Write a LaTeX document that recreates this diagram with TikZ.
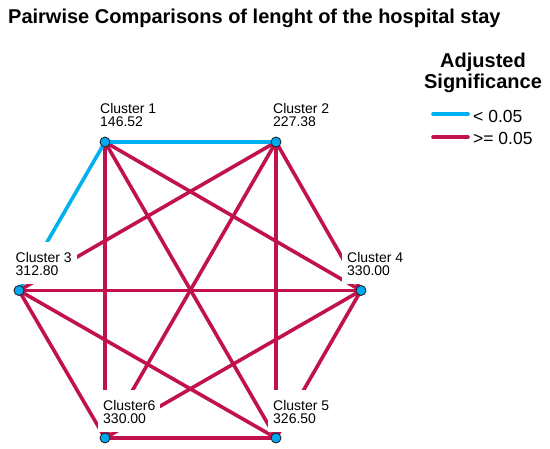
\documentclass[tikz,border=0pt]{standalone}
\usepackage{fontspec}
\setmainfont{Liberation Sans}
\usetikzlibrary{calc}
\definecolor{sigblue}{RGB}{0,176,240}
\definecolor{nsred}{RGB}{193,18,78}
\definecolor{dotblue}{RGB}{0,170,240}
\pgfdeclarelayer{edges}
\pgfdeclarelayer{boxes}
\pgfsetlayers{edges,boxes,main}
\tikzset{
  edgeline/.style={line width=3.6bp},
  sig/.style={edgeline, draw=sigblue},
  ns/.style={edgeline, draw=nsred},
  dotnode/.style={circle, fill=dotblue, draw=black!85, line width=0.9bp, minimum size=10bp, inner sep=0pt},
  labfont/.style={font=\fontsize{14bp}{16bp}\selectfont},
  labbox/.style={labfont, fill=white, inner xsep=5bp, inner ysep=0pt, minimum height=42bp, anchor=south west},
  labtxt/.style={labfont, inner sep=0pt, anchor=base west},
  legtxt/.style={font=\fontsize{17.5bp}{20bp}\selectfont, inner sep=0pt, anchor=base west},
  legtitle/.style={font=\fontsize{20bp}{24bp}\selectfont\bfseries, inner sep=0pt, anchor=base},
}
\begin{document}
\begin{tikzpicture}[x=1bp,y=-1bp]
\useasboundingbox (0,0) rectangle (550,449);

% title
\node[font=\fontsize{20bp}{24bp}\selectfont\bfseries, inner sep=0pt, anchor=base west] (title) at (8,24) {Pairwise Comparisons of lenght of the hospital stay};

% legend
\node[legtitle] (lt1) at (483,68) {Adjusted};
\node[legtitle] (lt2) at (483,88.5) {Significance};
\coordinate (lba) at (433,114);
\coordinate (lbb) at (468,114);
\coordinate (lra) at (433,137.3);
\coordinate (lrb) at (468,137.3);
\draw[sig, line cap=round] (lba) -- (lbb);
\draw[ns, line cap=round] (lra) -- (lrb);
\node[legtxt] (lg1) at (473,123) {< 0.05};
\node[legtxt] (lg2) at (473,145) {>= 0.05};

% cluster dots
\node[dotnode] (c1) at (105,142) {};
\node[dotnode] (c2) at (276,142) {};
\node[dotnode] (c3) at (19,290.5) {};
\node[dotnode] (c4) at (361,290.5) {};
\node[dotnode] (c6) at (105,438) {};
\node[dotnode] (c5) at (276,438) {};

% connectors
\begin{pgfonlayer}{edges}
\draw[ns] (c1.center) -- (c4.center);
\draw[ns] (c1.center) -- (c5.center);
\draw[ns] (c1.center) -- (c6.center);
\draw[ns] (c2.center) -- (c3.center);
\draw[ns] (c2.center) -- (c4.center);
\draw[ns] (c2.center) -- (c5.center);
\draw[ns] (c2.center) -- (c6.center);
\draw[ns] (c3.center) -- (c4.center);
\draw[ns] (c3.center) -- (c5.center);
\draw[ns] (c3.center) -- (c6.center);
\draw[ns] (c4.center) -- (c5.center);
\draw[ns] (c4.center) -- (c6.center);
\draw[ns] (c5.center) -- (c6.center);
\draw[sig] (c1.center) -- (c2.center);
\draw[sig] (c1.center) -- (c3.center);
\end{pgfonlayer}

% label boxes
\begin{pgfonlayer}{boxes}
\node[labbox] (b1) at (95,136) {\phantom{Cluster 1}};
\node[labbox] (b2) at (268,136) {\phantom{Cluster 2}};
\node[labbox] (b3) at (10.5,284.5) {\phantom{Cluster 3}};
\node[labbox] (b4) at (342,284.5) {\phantom{Cluster 4}};
\node[labbox] (b6) at (98,432) {\phantom{Cluster6}};
\node[labbox] (b5) at (268,432) {\phantom{Cluster 5}};
\end{pgfonlayer}

% label texts
\node[labtxt] (t1a) at (100,114) {Cluster 1};
\node[labtxt] (t1b) at (100,127) {146.52};
\node[labtxt] (t2a) at (273,114) {Cluster 2};
\node[labtxt] (t2b) at (273,127) {227.38};
\node[labtxt] (t3a) at (15.5,262.5) {Cluster 3};
\node[labtxt] (t3b) at (15.5,275.5) {312.80};
\node[labtxt] (t4a) at (347,262.5) {Cluster 4};
\node[labtxt] (t4b) at (347,275.5) {330.00};
\node[labtxt] (t6a) at (103,410) {Cluster6};
\node[labtxt] (t6b) at (103,423) {330.00};
\node[labtxt] (t5a) at (273,410) {Cluster 5};
\node[labtxt] (t5b) at (273,423) {326.50};
\end{tikzpicture}
\end{document}
